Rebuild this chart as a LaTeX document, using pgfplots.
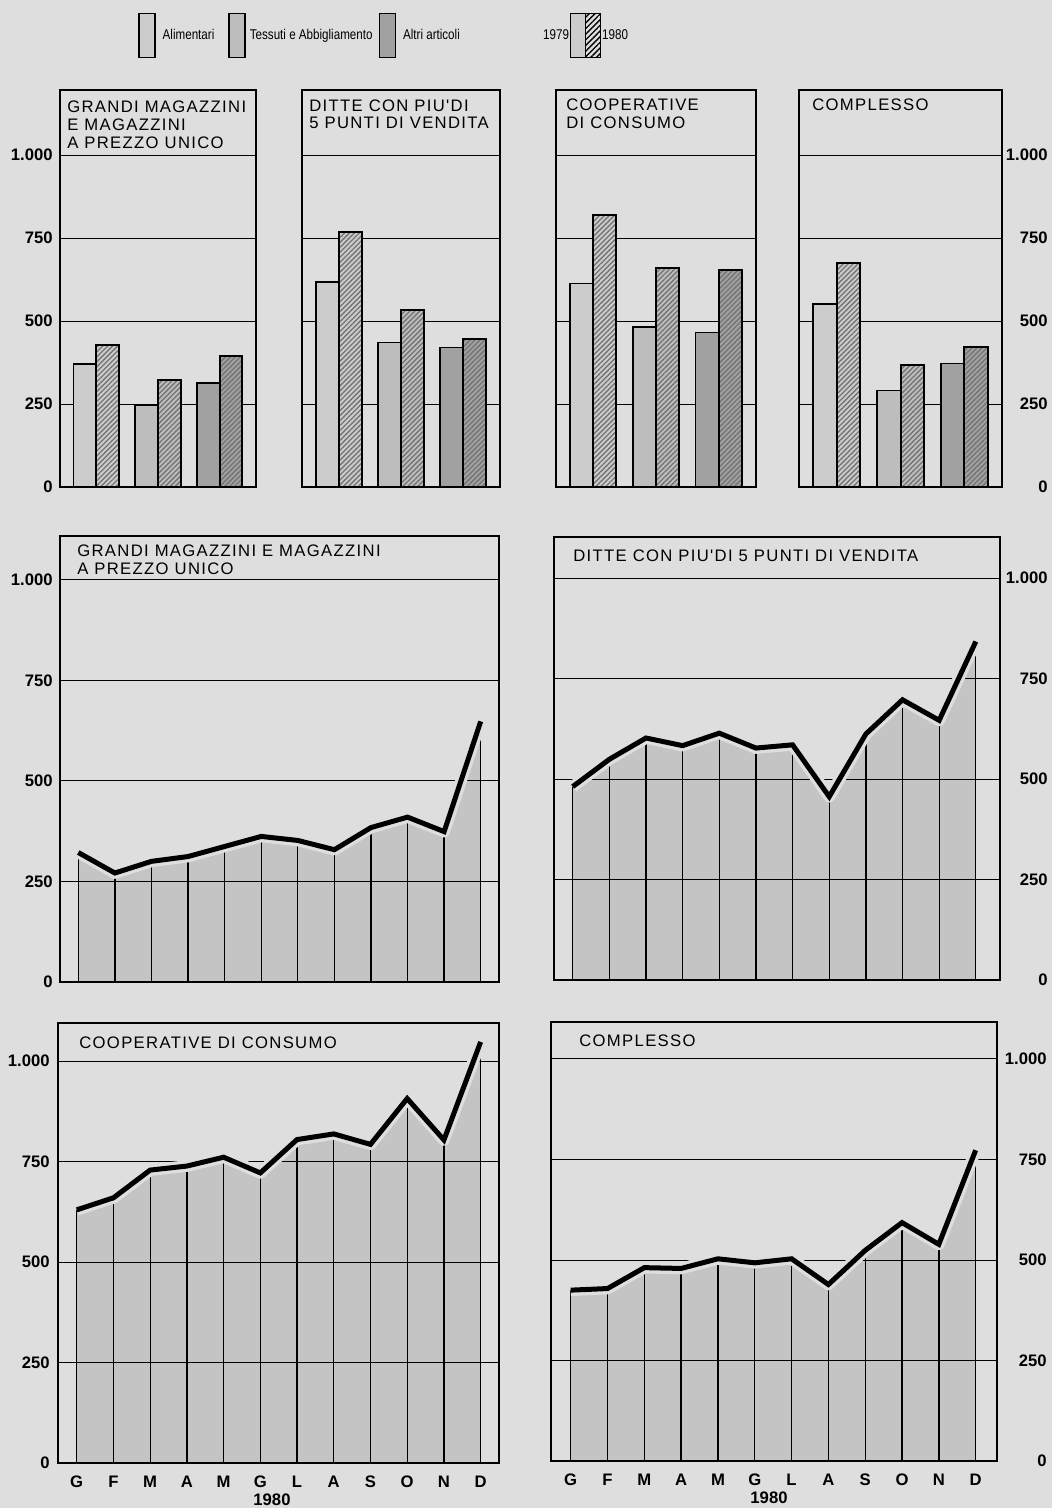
\documentclass[border=0pt]{standalone}
\usepackage{pgfplots}
\usepackage{pgfplotstable}
\pgfplotsset{compat=1.18}
\usetikzlibrary{patterns.meta}
\usepackage{fontspec}
\setmainfont{Liberation Sans}
\newfontfamily\titlefont[LetterSpace=8]{Liberation Sans}
\newfontfamily\condfont[FakeStretch=0.82]{Liberation Sans}

\definecolor{bgc}{gray}{0.87}
\definecolor{areac}{gray}{0.77}
\definecolor{alim}{gray}{0.80}
\definecolor{tess}{gray}{0.74}
\definecolor{altri}{gray}{0.63}
\pagecolor{bgc}

% 1980, mesi G..D
\pgfplotstableread{
m v
1 322
2 271
3 300
4 312
5 337
6 362
7 352
8 329
9 384
10 410
11 374
12 648
}\gmline
\pgfplotstableread{
m v
1 481
2 549
3 602
4 583
5 614
6 577
7 585
8 456
9 612
10 697
11 646
12 842
}\ditteline
\pgfplotstableread{
m v
1 630
2 660
3 729
4 739
5 761
6 722
7 805
8 819
9 793
10 907
11 804
12 1048
}\coopline
\pgfplotstableread{
m v
1 425
2 429
3 481
4 479
5 503
6 493
7 503
8 439
9 524
10 593
11 539
12 773
}\compline

\pgfplotsset{
  panel/.style={
    scale only axis, set layers, anchor=south west, ymin=0,
    axis line style={black, line width=1.1pt},
    ytick={0,250,500,750,1000},
    ymajorgrids, major grid style={black, line width=0.6pt},
    major tick length=0pt,
    title style={at={(axis description cs:0,1)}, anchor=north west, align=left,
      inner sep=0pt, font=\titlefont\fontsize{10}{10.6}\selectfont},
    yticklabel style={inner sep=0pt, font=\bfseries\fontsize{10}{12}\selectfont},
  },
  leftlab/.style={yticklabels={0,250,500,750,1.000},
    yticklabel style={anchor=east, xshift=-#1}},
  rightlab/.style={yticklabel pos=right, yticklabels={0,250,500,750,1.000},
    yticklabel style={anchor=east, xshift=#1}},
  nolab/.style={yticklabels={,,,,}},
  barpanel/.style={panel, ymax=1196, xmin=0.41, xmax=3.59, xtick=\empty,
    height=238.2pt},
  b79/.style={/tikz/ybar, bar width=0.37, bar shift=-0.185, draw=black,
    line width=1pt},
  b80/.style={/tikz/ybar, bar width=0.37, bar shift=0.185, draw=black,
    line width=1.2pt,
    postaction={pattern color=black!55,
      pattern={Lines[angle=45,distance=2.1pt,line width=0.8pt]}}},
  linepanel/.style={panel, xtick={1,...,12}, xticklabels={,,,,,,,,,,,},
    xticklabel style={inner sep=0pt, yshift=-7.6pt,
      font=\bfseries\fontsize{10}{12}\selectfont}},
  months/.style={xticklabels={G,F,M,A,M,G,L,A,S,O,N,D},
    xlabel={1980}, xlabel style={at={(axis description cs:0.5,0)},
      anchor=north, inner sep=0pt, yshift=-18.6pt, xshift=#1,
      font=\bfseries\fontsize{10}{12}\selectfont}},
  combplot/.style={ycomb, black, line width=0.8pt},
  haloplot/.style={draw=bgc, line width=7pt, line join=round},
  mainline/.style={black, line width=3pt},
  legbox/.style={legend image code/.code={
    \draw[black, line width=0.9pt, fill=#1] (0pt,-13.2pt) rectangle (9.6pt,13.2pt);}},
  yearleg/.style={legend image code/.code={
    \node[anchor=east, inner sep=0pt, font=\condfont\fontsize{8.5}{10}\selectfont]
      at (-0.6pt,0pt) {1979};
    \draw[black, line width=0.9pt, fill=alim] (0pt,-13.2pt) rectangle (9pt,13.2pt);
    \draw[black, line width=0.9pt, fill=bgc, postaction={pattern color=black,
      pattern={Lines[angle=45,distance=2.4pt,line width=0.8pt]}}]
      (9pt,-13.2pt) rectangle (18pt,13.2pt);}},
}

\begin{document}
\begin{tikzpicture}
% ---------- barre 1979/1980 ----------
\begin{axis}[barpanel, at={(36pt,-292.2pt)}, width=117.6pt, leftlab=4.2pt,
  title={GRANDI MAGAZZINI\\E MAGAZZINI\\A PREZZO UNICO},
  title style={xshift=4.2pt, yshift=-12.6pt},
  legend columns=-1,
  legend style={at={(axis description cs:0.372,1.204)}, anchor=north west,
    draw=none, fill=none, nodes={inner sep=0pt}, /tikz/column sep=0pt,
    font=\condfont\fontsize{8.5}{10}\selectfont}]
\addlegendimage{legbox=alim}
\addlegendentry{\hspace*{4.2pt}Alimentari\hspace*{8.4pt}}
\addlegendimage{legbox=tess}
\addlegendentry{\hspace*{2.4pt}Tessuti e Abbigliamento\hspace*{3.6pt}}
\addlegendimage{legbox=altri}
\addlegendentry{\hspace*{4.2pt}Altri articoli\hspace*{50pt}}
\addlegendimage{yearleg}
\addlegendentry{\hspace*{0.6pt}1980}
\addplot[b79, fill=alim] coordinates {(1,371)};
\addplot[b80, fill=alim] coordinates {(1,427)};
\addplot[b79, fill=tess] coordinates {(2,248)};
\addplot[b80, fill=tess] coordinates {(2,322)};
\addplot[b79, fill=altri] coordinates {(3,314)};
\addplot[b80, fill=altri] coordinates {(3,394)};
\end{axis}

\begin{axis}[barpanel, at={(181.2pt,-292.2pt)}, width=118.8pt, nolab,
  title={DITTE CON PIU'DI\\5 PUNTI DI VENDITA},
  title style={xshift=4.2pt, yshift=-11.6pt}]
\addplot[b79, fill=alim] coordinates {(1,618)};
\addplot[b80, fill=alim] coordinates {(1,767)};
\addplot[b79, fill=tess] coordinates {(2,435)};
\addplot[b80, fill=tess] coordinates {(2,533)};
\addplot[b79, fill=altri] coordinates {(3,420)};
\addplot[b80, fill=altri] coordinates {(3,447)};
\end{axis}

\begin{axis}[barpanel, at={(333.6pt,-292.2pt)}, width=120pt, nolab,
  title={COOPERATIVE\\DI CONSUMO},
  title style={xshift=6pt, yshift=-11.4pt}]
\addplot[b79, fill=alim] coordinates {(1,613)};
\addplot[b80, fill=alim] coordinates {(1,819)};
\addplot[b79, fill=tess] coordinates {(2,482)};
\addplot[b80, fill=tess] coordinates {(2,661)};
\addplot[b79, fill=altri] coordinates {(3,465)};
\addplot[b80, fill=altri] coordinates {(3,653)};
\end{axis}

\begin{axis}[barpanel, at={(479.4pt,-292.2pt)}, width=121.8pt, rightlab=27.6pt,
  title={COMPLESSO},
  title style={xshift=7.8pt, yshift=-11.4pt}]
\addplot[b79, fill=alim] coordinates {(1,551)};
\addplot[b80, fill=alim] coordinates {(1,676)};
\addplot[b79, fill=tess] coordinates {(2,291)};
\addplot[b80, fill=tess] coordinates {(2,369)};
\addplot[b79, fill=altri] coordinates {(3,372)};
\addplot[b80, fill=altri] coordinates {(3,422)};
\end{axis}

% ---------- andamento mensile 1980 ----------
\begin{axis}[linepanel, at={(36pt,-589.2pt)}, width=263.4pt, height=267.6pt,
  ymax=1109, xmin=0.5, xmax=12.5, leftlab=4.2pt,
  title={GRANDI MAGAZZINI E MAGAZZINI\\A PREZZO UNICO},
  title style={xshift=10.2pt, yshift=-11.4pt}]
\addplot[on layer=axis background, fill=areac, draw=none] table[x=m,y=v]{\gmline} \closedcycle;
\addplot[combplot] table[x=m,y=v]{\gmline};
\addplot[haloplot] table[x=m,y=v]{\gmline};
\addplot[mainline] table[x=m,y=v]{\gmline};
\end{axis}

\begin{axis}[linepanel, at={(332.4pt,-588pt)}, width=267.6pt, height=265.8pt,
  ymax=1102, xmin=0.49, xmax=12.66, rightlab=28.8pt,
  title={DITTE CON PIU'DI 5 PUNTI DI VENDITA},
  title style={xshift=11.4pt, yshift=-13.8pt}]
\addplot[on layer=axis background, fill=areac, draw=none] table[x=m,y=v]{\ditteline} \closedcycle;
\addplot[combplot] table[x=m,y=v]{\ditteline};
\addplot[haloplot] table[x=m,y=v]{\ditteline};
\addplot[mainline] table[x=m,y=v]{\ditteline};
\end{axis}

\begin{axis}[linepanel, months=-3.9pt, at={(34.8pt,-877.8pt)}, width=264.6pt, height=264pt,
  ymax=1095, xmin=0.49, xmax=12.5, leftlab=4.8pt,
  title={COOPERATIVE DI CONSUMO},
  title style={xshift=12.6pt, yshift=-14.2pt}]
\addplot[on layer=axis background, fill=areac, draw=none] table[x=m,y=v]{\coopline} \closedcycle;
\addplot[combplot] table[x=m,y=v]{\coopline};
\addplot[haloplot] table[x=m,y=v]{\coopline};
\addplot[mainline] table[x=m,y=v]{\coopline};
\end{axis}

\begin{axis}[linepanel, months=-3pt, at={(330.6pt,-876.6pt)}, width=267.6pt, height=263.4pt,
  ymax=1092, xmin=0.465, xmax=12.58, rightlab=30pt,
  title={COMPLESSO},
  title style={xshift=16.8pt, yshift=-13.8pt}]
\addplot[on layer=axis background, fill=areac, draw=none] table[x=m,y=v]{\compline} \closedcycle;
\addplot[combplot] table[x=m,y=v]{\compline};
\addplot[haloplot] table[x=m,y=v]{\compline};
\addplot[mainline] table[x=m,y=v]{\compline};
\end{axis}

% page frame (invisible)
\path (0pt,0pt) rectangle (631.2pt,-904.8pt);
\end{tikzpicture}
\end{document}
